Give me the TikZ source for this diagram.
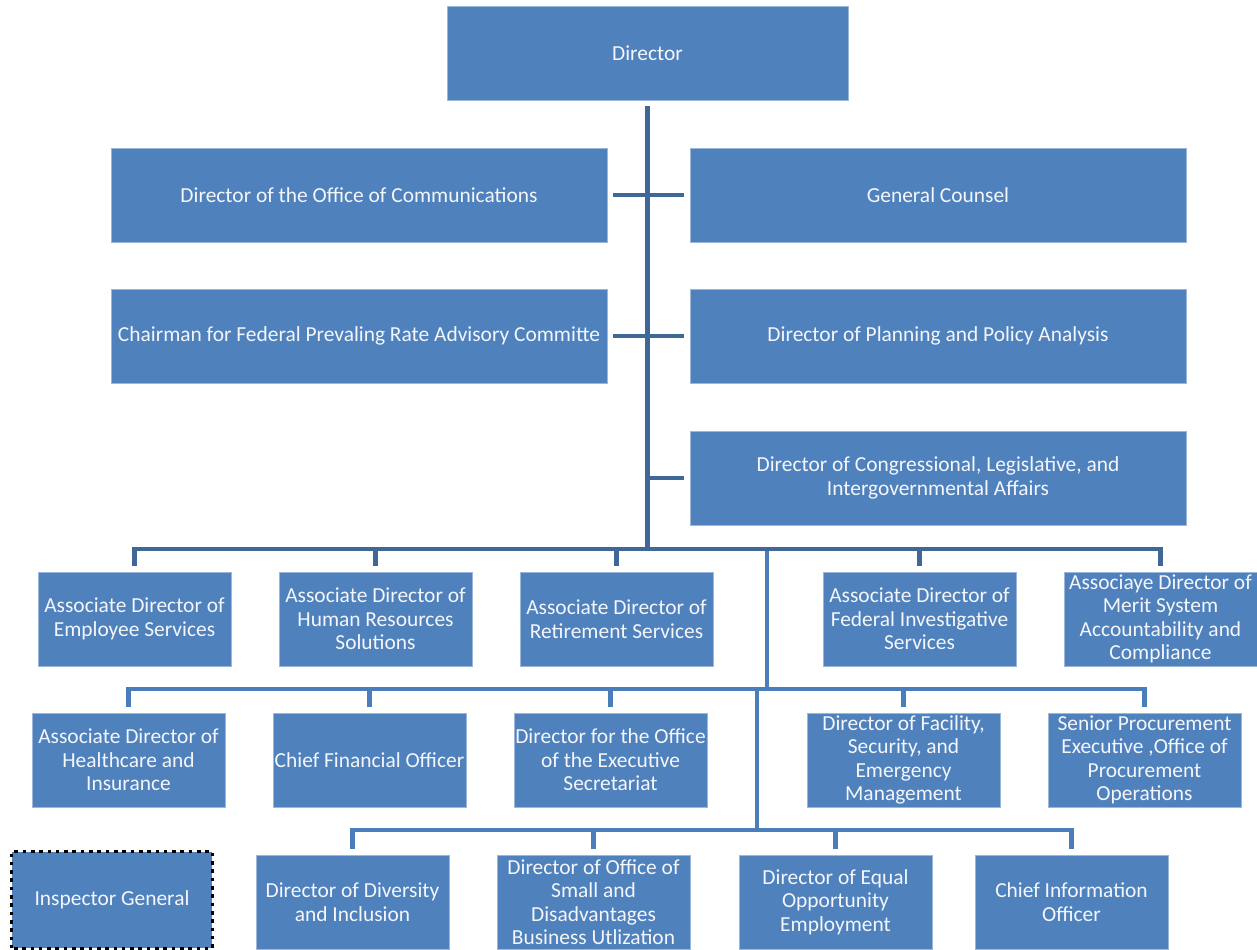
\documentclass[tikz,border=0pt]{standalone}
\usepackage{fontspec}
\setmainfont{Carlito}
\definecolor{boxfill}{HTML}{4F81BD}
\definecolor{boxedge}{HTML}{9DB7DA}
\definecolor{darkline}{HTML}{3F6899}
\definecolor{lightline}{HTML}{4A7EBB}
\definecolor{boxtext}{HTML}{F4F6FA}
\begin{document}
\begin{tikzpicture}[x=1bp,y=-1bp,
  box/.style={draw=boxedge,line width=0.8bp,fill=boxfill,text=boxtext,
    minimum width=#1,minimum height=94bp,inner sep=0pt,align=center,
    font=\fontsize{21.5}{23.5}\selectfont},
  box/.default=193bp,
  dk/.style={draw=darkline,line width=4.8bp},
  lt/.style={draw=lightline,line width=4.5bp},
  ig/.style={draw=black,line width=3.6bp,dash pattern=on 3.6bp off 4.7bp}]
\useasboundingbox (0,0) rectangle (1257,950);
% top
\node[box=401bp] (dir) at (647.5,53) {Director};
\node[box=496bp] (comm) at (359,195) {Director of the Office of Communications};
\node[box=496bp] (gc) at (938,195) {General Counsel};
\node[box=496bp] (chair) at (359,336) {Chairman for Federal Prevaling Rate Advisory Committe};
\node[box=496bp] (plan) at (938,336) {Director of Planning and Policy Analysis};
\node[box=496bp] (cong) at (938,478) {Director of Congressional, Legislative, and\\Intergovernmental Affairs};
% row A
\node[box] (a1) at (134.5,619) {Associate Director of\\Employee Services};
\node[box] (a2) at (375.5,619) {Associate Director of\\Human Resources\\Solutions};
\node[box] (a3) at (616.5,619) {Associate Director of\\Retirement Services};
\node[box] (a4) at (919.5,619) {Associate Director of\\Federal Investigative\\Services};
\node[box] (a5) at (1160.5,619) {Associaye Director of\\Merit System\\Accountability and\\Compliance};
% row B
\node[box] (b1n) at (128.5,760) {Associate Director of\\Healthcare and\\Insurance};
\node[box] (b2n) at (369.5,760) {Chief Financial Officer};
\node[box] (b3n) at (610.5,760) {Director for the Office\\of the Executive\\Secretariat};
\node[box] (b4n) at (903.5,760) {Director of Facility,\\Security, and\\Emergency\\Management};
\node[box] (b5n) at (1144.5,760) {Senior Procurement\\Executive ,Office of\\Procurement\\Operations};
% row C
\node[box] (c1) at (352.5,902) {Director of Diversity\\and Inclusion};
\node[box] (c2) at (593.5,902) {Director of Office of\\Small and\\Disadvantages\\Business Utlization};
\node[box] (c3) at (835.5,902) {Director of Equal\\Opportunity\\Employment};
\node[box] (c4) at (1071.5,902) {Chief Information\\Officer};
\node[box=200bp,minimum height=96bp,draw=none] (ig) at (112,900) {Inspector General};
\draw[ig] (ig.south west) rectangle (ig.north east);
% bus coordinates
\coordinate (bus1) at (648,549);
\coordinate (v1) at (767,549);
\coordinate (bus2) at (767,689);
\coordinate (v2) at (757,689);
\coordinate (bus3) at (757,830);
% trunk and side branches
\draw[dk] ([yshift=-6bp]dir.south) -- (dir.south |- bus1);
\draw[dk] ([xshift=6bp]comm.east) -- ([xshift=-6bp]gc.west);
\draw[dk] ([xshift=6bp]chair.east) -- ([xshift=-6bp]plan.west);
\draw[dk] (dir.south |- cong.west) -- ([xshift=-6bp]cong.west);
% bus 1
\draw[dk] ([yshift=6bp]a1.north) |- (bus1) -| ([yshift=6bp]a5.north);
\foreach \n in {a2,a3,a4} \draw[dk] ([yshift=6bp]\n.north) -- (\n.north |- bus1);
% link to bus 2
\draw[lt] ([yshift=-2bp]v1) -- (bus2);
% bus 2
\draw[lt] ([yshift=6bp]b1n.north) |- (bus2) -| ([yshift=6bp]b5n.north);
\foreach \n in {b2n,b3n,b4n} \draw[lt] ([yshift=6bp]\n.north) -- (\n.north |- bus2);
% link to bus 3
\draw[lt] (v2) -- (bus3);
% bus 3
\draw[lt] ([yshift=6bp]c1.north) |- (bus3) -| ([yshift=6bp]c4.north);
\foreach \n in {c2,c3} \draw[lt] ([yshift=6bp]\n.north) -- (\n.north |- bus3);
\end{tikzpicture}
\end{document}
